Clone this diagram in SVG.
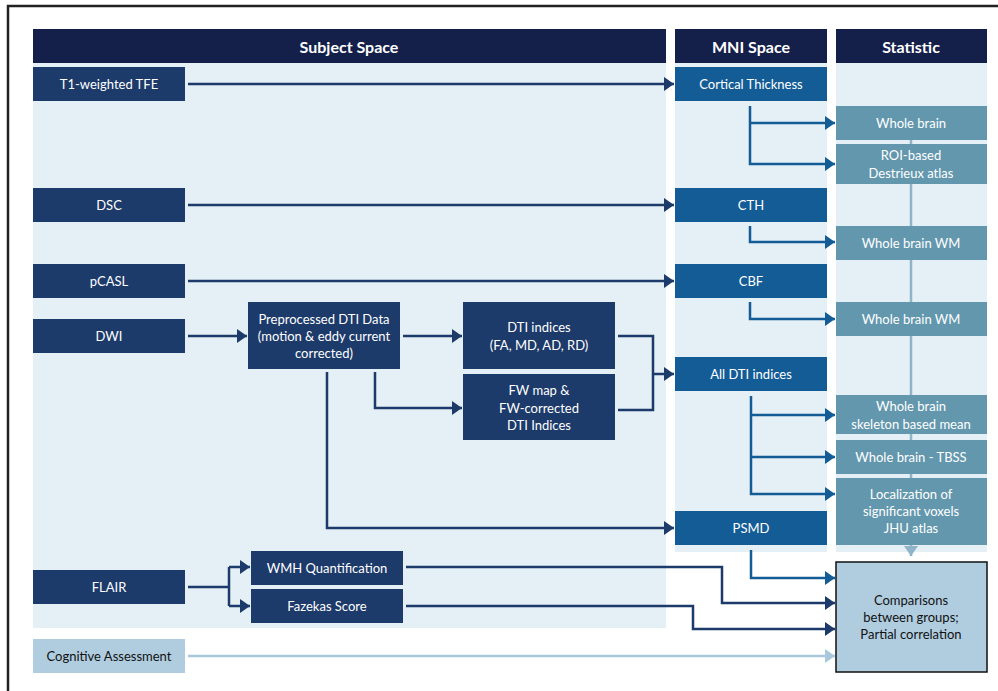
<svg xmlns="http://www.w3.org/2000/svg" width="998" height="691" viewBox="0 0 998 691">
<defs>
<style>
text{font-family:Lato,"Open Sans","Liberation Sans",sans-serif;font-size:13px;text-anchor:middle;dominant-baseline:central;fill:#ffffff}
.hdr{fill:#15204a}
.hdrt{font-size:16px;font-weight:bold}
.bg{fill:#e4eff6}
.navy{fill:#1c3a6a}
.mni{fill:#135c96}
.stat{fill:#6397ae}
.light{fill:#b0cde0}
.dk{fill:#111111}
.cn{fill:none;stroke:#1c3a6a;stroke-width:2.5}
.cb{fill:none;stroke:#135c96;stroke-width:2.5}
.cl{fill:none;stroke:#a9c8dc;stroke-width:2.5}
.cs{fill:none;stroke:#8fb3c8;stroke-width:2.5}
</style>
<marker id="an" markerUnits="userSpaceOnUse" markerWidth="12" markerHeight="14" refX="10" refY="7" orient="auto"><path d="M0,0 L10,7 L0,14 Z" fill="#1c3a6a"/></marker>
<marker id="ab" markerUnits="userSpaceOnUse" markerWidth="12" markerHeight="14" refX="10" refY="7" orient="auto"><path d="M0,0 L10,7 L0,14 Z" fill="#135c96"/></marker>
<marker id="al" markerUnits="userSpaceOnUse" markerWidth="12" markerHeight="14" refX="10" refY="7" orient="auto"><path d="M0,0 L10,7 L0,14 Z" fill="#a9c8dc"/></marker>
<marker id="as" markerUnits="userSpaceOnUse" markerWidth="12" markerHeight="14" refX="10" refY="7" orient="auto"><path d="M0,0 L10,7 L0,14 Z" fill="#8fb3c8"/></marker>
</defs>
<rect x="0" y="0" width="998" height="691" fill="#ffffff"/>
<rect x="8" y="6" width="1000" height="700" fill="none" stroke="#222222" stroke-width="2.5"/>

<g id="columns">
<rect class="bg" x="33" y="62" width="633" height="566"/>
<rect class="bg" x="675" y="62" width="152" height="490"/>
<rect class="bg" x="836" y="62" width="151" height="490"/>
<rect class="hdr" x="33" y="29" width="633" height="34"/>
<rect class="hdr" x="675" y="29" width="152" height="34"/>
<rect class="hdr" x="836" y="29" width="151" height="34"/>
<text class="hdrt" x="349" y="46">Subject Space</text>
<text class="hdrt" x="751" y="46">MNI Space</text>
<text class="hdrt" x="911" y="46">Statistic</text>
</g>

<g id="connectors">
<path class="cs" d="M911,140 V556" marker-end="url(#as)"/>
<path class="cn" d="M188,84 H674" marker-end="url(#an)"/>
<path class="cn" d="M188,205 H674" marker-end="url(#an)"/>
<path class="cn" d="M188,281 H674" marker-end="url(#an)"/>
<path class="cn" d="M188,336 H247" marker-end="url(#an)"/>
<path class="cn" d="M403,336 H462" marker-end="url(#an)"/>
<path class="cn" d="M375,372 V408 H462" marker-end="url(#an)"/>
<path class="cn" d="M327,372 V528 H674" marker-end="url(#an)"/>
<path class="cn" d="M618,336 H653 V410 H618"/>
<path class="cn" d="M653,374 H674" marker-end="url(#an)"/>
<path class="cb" d="M750,106 V164 H835" marker-end="url(#ab)"/>
<path class="cb" d="M750,123 H835" marker-end="url(#ab)"/>
<path class="cb" d="M750,226 V242 H835" marker-end="url(#ab)"/>
<path class="cb" d="M750,302 V319 H835" marker-end="url(#ab)"/>
<path class="cb" d="M751,396 V494 H835" marker-end="url(#ab)"/>
<path class="cb" d="M751,415 H835" marker-end="url(#ab)"/>
<path class="cb" d="M751,457 H835" marker-end="url(#ab)"/>
<path class="cb" d="M751,550 V578 H835" marker-end="url(#ab)"/>
<path class="cn" d="M188,587 H229"/>
<path class="cn" d="M229,567 V606"/>
<path class="cn" d="M229,567 H250" marker-end="url(#an)"/>
<path class="cn" d="M229,606 H250" marker-end="url(#an)"/>
<path class="cn" d="M406,567 H722 V603 H835" marker-end="url(#an)"/>
<path class="cn" d="M406,606 H693 V629 H835" marker-end="url(#an)"/>
<path class="cl" d="M188,656 H835" marker-end="url(#al)"/>
</g>

<g id="t1"><rect class="navy" x="33" y="67" width="152" height="34"/><text x="109" y="84">T1-weighted TFE</text></g>
<g id="dsc"><rect class="navy" x="33" y="188" width="152" height="34"/><text x="109" y="205">DSC</text></g>
<g id="pcasl"><rect class="navy" x="33" y="264" width="152" height="34"/><text x="109" y="281">pCASL</text></g>
<g id="dwi"><rect class="navy" x="33" y="319" width="152" height="34"/><text x="109" y="336">DWI</text></g>
<g id="flair"><rect class="navy" x="33" y="570" width="152" height="34"/><text x="109" y="587">FLAIR</text></g>
<g id="cog"><rect class="light" x="33" y="639" width="152" height="34"/><text class="dk" x="109" y="656">Cognitive Assessment</text></g>

<g id="prep"><rect class="navy" x="248" y="302" width="152" height="67"/>
<text x="324" y="319">Preprocessed DTI Data</text><text x="324" y="336">(motion &amp; eddy current</text><text x="324" y="353">corrected)</text></g>
<g id="dtiidx"><rect class="navy" x="463" y="302" width="152" height="67"/>
<text x="539" y="327">DTI indices</text><text x="539" y="345">(FA, MD, AD, RD)</text></g>
<g id="fw"><rect class="navy" x="463" y="374" width="152" height="66"/>
<text x="539" y="390">FW map &amp;</text><text x="539" y="408">FW-corrected</text><text x="539" y="425">DTI Indices</text></g>
<g id="wmh"><rect class="navy" x="251" y="551" width="152" height="34"/><text x="327" y="568">WMH Quantification</text></g>
<g id="faz"><rect class="navy" x="251" y="589" width="152" height="34"/><text x="327" y="606">Fazekas Score</text></g>

<g id="ct"><rect class="mni" x="675" y="67" width="152" height="34"/><text x="751" y="84">Cortical Thickness</text></g>
<g id="cth"><rect class="mni" x="675" y="188" width="152" height="34"/><text x="751" y="205">CTH</text></g>
<g id="cbf"><rect class="mni" x="675" y="264" width="152" height="34"/><text x="751" y="281">CBF</text></g>
<g id="alldti"><rect class="mni" x="675" y="357" width="152" height="34"/><text x="751" y="374">All DTI indices</text></g>
<g id="psmd"><rect class="mni" x="675" y="511" width="152" height="34"/><text x="751" y="528">PSMD</text></g>

<g id="wb1"><rect class="stat" x="836" y="106" width="151" height="34"/><text x="911" y="123">Whole brain</text></g>
<g id="roi"><rect class="stat" x="836" y="144" width="151" height="40"/><text x="911" y="155">ROI-based</text><text x="911" y="173">Destrieux atlas</text></g>
<g id="wbwm1"><rect class="stat" x="836" y="226" width="151" height="34"/><text x="911" y="243">Whole brain WM</text></g>
<g id="wbwm2"><rect class="stat" x="836" y="302" width="151" height="34"/><text x="911" y="319">Whole brain WM</text></g>
<g id="skel"><rect class="stat" x="836" y="395" width="151" height="39"/><text x="911" y="406">Whole brain</text><text x="911" y="424">skeleton based mean</text></g>
<g id="tbss"><rect class="stat" x="836" y="440" width="151" height="34"/><text x="911" y="457">Whole brain - TBSS</text></g>
<g id="loc"><rect class="stat" x="836" y="478" width="151" height="67"/><text x="911" y="494">Localization of</text><text x="911" y="511">significant voxels</text><text x="911" y="528">JHU atlas</text></g>

<g id="comp"><rect class="light" x="836" y="562" width="151" height="110" stroke="#111111" stroke-width="1.5"/>
<text class="dk" x="911" y="600">Comparisons</text><text class="dk" x="911" y="617">between groups;</text><text class="dk" x="911" y="634">Partial correlation</text></g>
</svg>
